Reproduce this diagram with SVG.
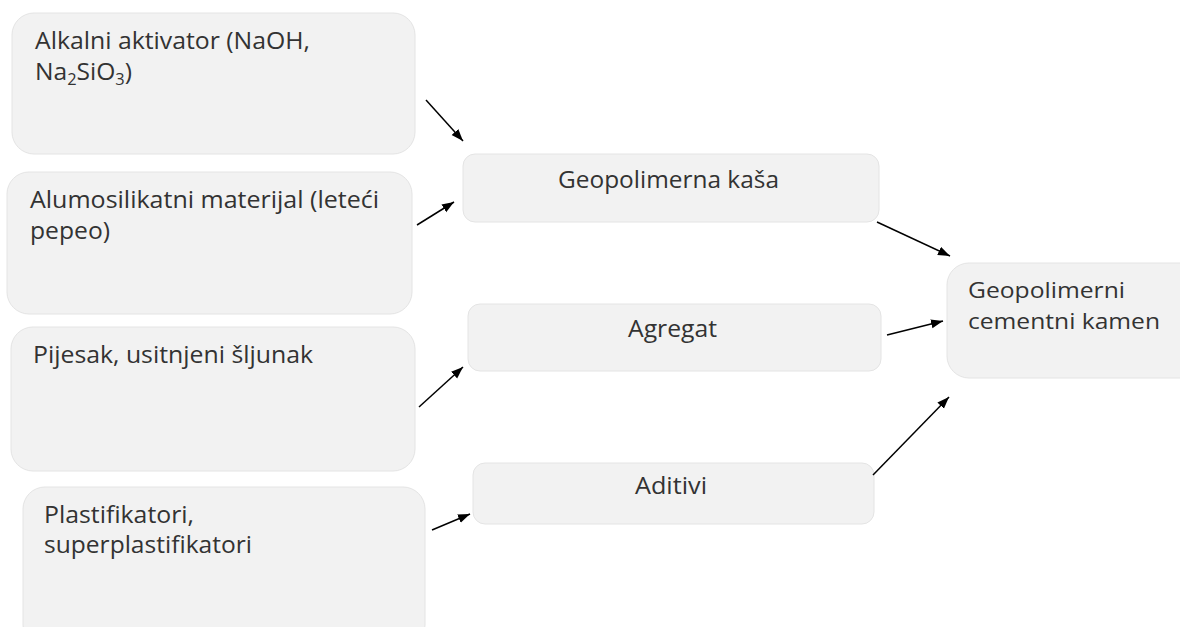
<svg xmlns="http://www.w3.org/2000/svg" width="1180" height="627" viewBox="0 0 1180 627">
<style>
.box{fill:#f2f2f2;stroke:#e4e4e4;stroke-width:1}
.t{font-family:"Open Sans","Noto Sans",sans-serif;font-size:24px;fill:#333333}
.s{font-size:22.5px}
.ln{stroke:#000;stroke-width:1.5;fill:none;marker-end:url(#ah)}
</style>
<defs>
<marker id="ah" markerUnits="userSpaceOnUse" markerWidth="13" markerHeight="10" refX="12" refY="4.5" orient="auto">
<path d="M0,0 L12,4.5 L0,9 z" fill="#000"/>
</marker>
</defs>
<g id="n1"><rect class="box" x="12" y="13" width="403" height="141" rx="22"/>
<text class="t" x="35" y="49" textLength="275" lengthAdjust="spacingAndGlyphs">Alkalni aktivator (NaOH,</text>
<text class="t" x="35" y="80" textLength="97" lengthAdjust="spacingAndGlyphs">Na<tspan font-size="16" dy="5">2</tspan><tspan dy="-5">SiO</tspan><tspan font-size="16" dy="5">3</tspan><tspan dy="-5">)</tspan></text></g>
<g id="n2"><rect class="box" x="7" y="172" width="405" height="142" rx="22"/>
<text class="t" x="30" y="208" textLength="349" lengthAdjust="spacingAndGlyphs">Alumosilikatni materijal (leteći</text>
<text class="t" x="30" y="239" textLength="80" lengthAdjust="spacingAndGlyphs">pepeo)</text></g>
<g id="n3"><rect class="box" x="11" y="327" width="404" height="144" rx="22"/>
<text class="t" x="33" y="363" textLength="280" lengthAdjust="spacingAndGlyphs">Pijesak, usitnjeni šljunak</text></g>
<g id="n4"><rect class="box" x="23" y="487" width="402" height="160" rx="22"/>
<text class="t" x="44" y="523" textLength="150" lengthAdjust="spacingAndGlyphs">Plastifikatori,</text>
<text class="t" x="44" y="553" textLength="208" lengthAdjust="spacingAndGlyphs">superplastifikatori</text></g>
<g id="n5"><rect class="box" x="463" y="154" width="416" height="68" rx="12"/>
<text class="t" x="558" y="188" textLength="221" lengthAdjust="spacingAndGlyphs">Geopolimerna kaša</text></g>
<g id="n6"><rect class="box" x="468" y="304" width="413" height="67" rx="12"/>
<text class="t" x="628" y="337" textLength="89" lengthAdjust="spacingAndGlyphs">Agregat</text></g>
<g id="n7"><rect class="box" x="473" y="463" width="401" height="61" rx="12"/>
<text class="t" x="635" y="494" textLength="72" lengthAdjust="spacingAndGlyphs">Aditivi</text></g>
<g id="n8"><rect class="box" x="947" y="263" width="260" height="115" rx="22"/>
<text class="t s" x="968" y="298" textLength="157" lengthAdjust="spacingAndGlyphs">Geopolimerni</text>
<text class="t s" x="968" y="329" textLength="192" lengthAdjust="spacingAndGlyphs">cementni kamen</text></g>
<g id="edges">
<line class="ln" x1="426" y1="100" x2="463" y2="141"/>
<line class="ln" x1="417" y1="225" x2="454" y2="202"/>
<line class="ln" x1="419" y1="407" x2="463" y2="367"/>
<line class="ln" x1="432" y1="530" x2="470" y2="514"/>
<line class="ln" x1="877" y1="222" x2="950" y2="256"/>
<line class="ln" x1="887" y1="335" x2="943" y2="321"/>
<line class="ln" x1="873" y1="475" x2="949" y2="397"/>
</g>
</svg>
